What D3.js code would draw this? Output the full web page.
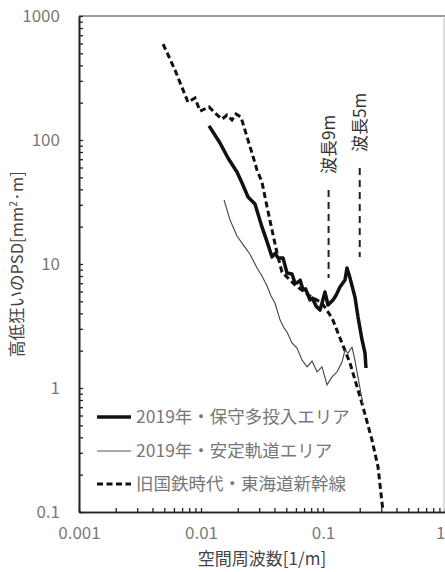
<!DOCTYPE html>
<html>
<head>
<meta charset="utf-8">
<script src="https://cdn.jsdelivr.net/npm/d3@7"></script>
<style>
  body { margin: 0; background: #fff; }
  svg { display: block; font-family: "Noto Sans CJK JP", "Noto Sans", sans-serif; }
</style>
</head>
<body>
<div id="chart"></div>
<script>
// series (x: spatial frequency 1/m, y: PSD)
const maintX = [0.01164, 0.01432, 0.01664, 0.01972, 0.0217, 0.0243, 0.0277, 0.0316, 0.0345, 0.0382, 0.0405, 0.0428, 0.047, 0.0507, 0.0557, 0.0585, 0.0612, 0.065, 0.0686, 0.072, 0.0781, 0.082, 0.0876, 0.0945, 0.0985, 0.1038, 0.1099, 0.1208, 0.128, 0.1378, 0.1514, 0.1573, 0.1665, 0.1828, 0.1936, 0.209, 0.221, 0.225];
const maintY = [130, 94.6, 71.6, 55.2, 45.0, 34.7, 30.5, 19.9, 15.5, 11.4, 12.2, 11.2, 11.2, 8.45, 8.3, 7.2, 7.03, 7.4, 6.17, 6.3, 5.13, 5.3, 4.58, 4.25, 4.9, 5.94, 4.67, 5.13, 5.6, 6.53, 7.43, 9.29, 7.7, 5.42, 3.74, 2.44, 1.91, 1.45];

const stableX = [0.01545, 0.0173, 0.01972, 0.0225, 0.0252, 0.0288, 0.0316, 0.0348, 0.0375, 0.0404, 0.0445, 0.0479, 0.0507, 0.0557, 0.0612, 0.0673, 0.074, 0.0813, 0.0893, 0.0981, 0.1079, 0.1186, 0.1303, 0.1432, 0.1514, 0.1603, 0.173, 0.1828, 0.19, 0.201, 0.213];
const stableY = [32.8, 22.6, 16.8, 14.0, 12.0, 9.29, 8.0, 6.65, 5.52, 4.84, 3.53, 3.05, 2.83, 2.31, 2.1, 1.68, 1.48, 1.65, 1.35, 1.48, 1.06, 1.23, 1.35, 1.62, 2.02, 1.91, 2.14, 1.68, 1.35, 1.0, 0.73];

const jnrX = [0.00489, 0.00612, 0.00782, 0.00893, 0.00982, 0.01164, 0.01303, 0.01486, 0.01633, 0.01795, 0.01936, 0.02128, 0.02383, 0.02618, 0.02877, 0.0316, 0.0348, 0.0382, 0.042, 0.0461, 0.0589, 0.0781, 0.0981, 0.1186, 0.1378, 0.1665, 0.2128, 0.252, 0.2825, 0.31];
const jnrY = [594, 367, 202, 218, 171, 185, 165, 147, 159, 145, 162, 153, 106, 78.5, 57.3, 45.8, 28.8, 18.8, 12.3, 8.6, 6.78, 5.52, 4.84, 3.67, 2.53, 1.59, 0.703, 0.381, 0.231, 0.102];

// wavelength markers: frequency and y extent
const markerLabels = ["波長9m", "波長5m"];
const markerX = [1 / 9, 1 / 5];
const markerY0 = [39.5, 59.4];
const markerY1 = [7.7, 11.4];

const xTicks = [0.001, 0.01, 0.1, 1];
const xTickLabels = ["0.001", "0.01", "0.1", "1"];
const yTicks = [0.1, 1, 10, 100, 1000];
const yTickLabels = ["0.1", "1", "10", "100", "1000"];

const legendLabels = ["2019年・保守多投入エリア", "2019年・安定軌道エリア", "旧国鉄時代・東海道新幹線"];

const width = 445, height = 572;
const margin = { left: 79, right: 0, top: 16, bottom: 60 };

const svg = d3.select("#chart").append("svg")
  .attr("width", width)
  .attr("height", height);

const x = d3.scaleLog().domain([0.001, 1]).range([margin.left, width - margin.right]);
const y = d3.scaleLog().domain([0.1, 1000]).range([height - margin.bottom, margin.top]);

// frame (top + right, light)
svg.append("line")
  .attr("x1", x(0.001)).attr("x2", x(1))
  .attr("y1", y(1000)).attr("y2", y(1000))
  .attr("stroke", "#7a7a7a").attr("stroke-width", 1.5);
svg.append("line")
  .attr("x1", x(1) - 1).attr("x2", x(1) - 1)
  .attr("y1", y(1000)).attr("y2", y(0.1))
  .attr("stroke", "#bbb").attr("stroke-width", 1);

// minor ticks
function minors(lo, hi) {
  const out = [];
  for (let d = lo; d < hi; d *= 10) for (let k = 2; k <= 9; k++) out.push(d * k);
  return out;
}

const xAxis = svg.append("g").attr("transform", `translate(0,${y(0.1)})`);
xAxis.call(d3.axisBottom(x).tickValues(minors(0.001, 1)).tickFormat("").tickSizeInner(-4).tickSizeOuter(0));
xAxis.append("g").call(d3.axisBottom(x).tickValues(xTicks).tickFormat((d, i) => xTickLabels[i]).tickSizeInner(-4).tickSizeOuter(0).tickPadding(15));
xAxis.selectAll(".domain").attr("stroke", "#222").attr("stroke-width", 1.6);
xAxis.selectAll("line").attr("stroke", "#222").attr("stroke-width", 1.3);
xAxis.selectAll("text").attr("font-size", 17).attr("fill", "#7a7a7a").attr("font-family", "Noto Sans CJK JP");
// last label sits on the right edge; keep it inside the page
xAxis.selectAll("text").filter((d) => d === 1).attr("text-anchor", "end");

const yAxis = svg.append("g").attr("transform", `translate(${x(0.001)},0)`);
yAxis.call(d3.axisLeft(y).tickValues(minors(0.1, 1000)).tickFormat("").tickSizeInner(-4).tickSizeOuter(0));
yAxis.append("g").call(d3.axisLeft(y).tickValues(yTicks).tickFormat((d, i) => yTickLabels[i]).tickSizeInner(-4).tickSizeOuter(0).tickPadding(19));
yAxis.selectAll(".domain").attr("stroke", "#222").attr("stroke-width", 1.6);
yAxis.selectAll("line").attr("stroke", "#222").attr("stroke-width", 1.3);
yAxis.selectAll("text").attr("font-size", 17).attr("fill", "#7a7a7a").attr("font-family", "Noto Sans CJK JP");

// axis titles
svg.append("text")
  .attr("x", 262).attr("y", 565)
  .attr("text-anchor", "middle")
  .attr("font-size", 17).attr("fill", "#444")
  .text("空間周波数[1/m]");

const yt = svg.append("text")
  .attr("transform", `translate(23,${(y(0.1) + y(1000)) / 2}) rotate(-90)`)
  .attr("text-anchor", "middle")
  .attr("font-size", 16.5).attr("fill", "#444");
yt.append("tspan").text("高低狂いのPSD[mm");
yt.append("tspan").attr("font-size", 10).attr("dy", -6).text("2");
yt.append("tspan").attr("dy", 6).text("·m]");

// series
const line = d3.line().x((d) => x(d[0])).y((d) => y(d[1]));
const zip = (xs, ys) => xs.map((v, i) => [v, ys[i]]);

svg.append("path")
  .datum(zip(jnrX, jnrY))
  .attr("d", line)
  .attr("fill", "none").attr("stroke", "#111").attr("stroke-width", 3)
  .attr("stroke-dasharray", "6,3.5");

svg.append("path")
  .datum(zip(stableX, stableY))
  .attr("d", line)
  .attr("fill", "none").attr("stroke", "#444").attr("stroke-width", 1.1);

svg.append("path")
  .datum(zip(maintX, maintY))
  .attr("d", line)
  .attr("fill", "none").attr("stroke", "#111").attr("stroke-width", 3.5)
  .attr("stroke-linejoin", "round");

// wavelength markers
markerX.forEach((f, i) => {
  svg.append("line")
    .attr("x1", x(f)).attr("x2", x(f))
    .attr("y1", y(markerY0[i])).attr("y2", y(markerY1[i]))
    .attr("stroke", "#222").attr("stroke-width", 2)
    .attr("stroke-dasharray", "7,5");
  svg.append("text")
    .attr("transform", `translate(${x(f) + 6.5},${y(markerY0[i]) - 16}) rotate(-90)`)
    .attr("font-size", 17).attr("fill", "#333")
    .text(markerLabels[i]);
});

// legend
const legendY = [417, 451, 484];
const legendStyle = [
  { w: 3.5, c: "#111", dash: null },
  { w: 1.1, c: "#555", dash: null },
  { w: 3, c: "#111", dash: "6,3.5" }
];
legendLabels.forEach((t, i) => {
  svg.append("line")
    .attr("x1", 97).attr("x2", 131)
    .attr("y1", legendY[i]).attr("y2", legendY[i])
    .attr("stroke", legendStyle[i].c).attr("stroke-width", legendStyle[i].w)
    .attr("stroke-dasharray", legendStyle[i].dash);
  svg.append("text")
    .attr("x", 136).attr("y", legendY[i] + 6)
    .attr("font-size", 17.5).attr("fill", "#777")
    .text(t);
});
</script>
</body>
</html>
